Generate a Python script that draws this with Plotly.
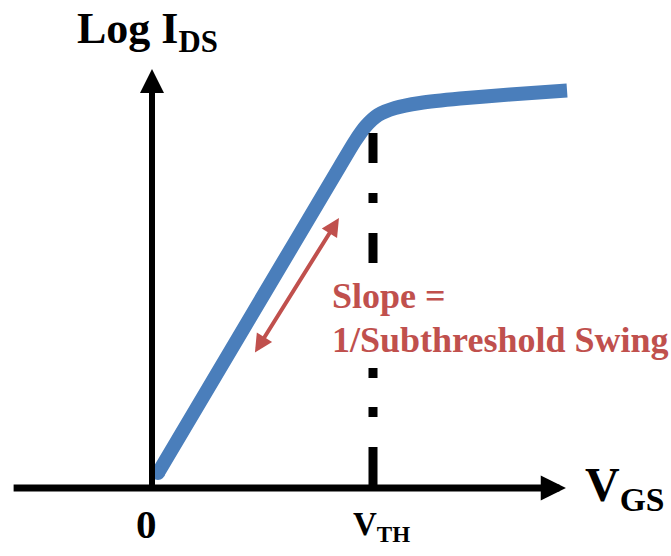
import plotly.graph_objects as go

# Transfer characteristic: gate voltage (V_TH = 1) against log drain current
vgs = [0.027, 0.443, 0.851, 0.919, 0.968, 1.023, 1.100, 1.213, 1.394, 1.620, 1.878]
log_ids = [0.15, 1.70, 3.22, 3.47, 3.62, 3.73, 3.80, 3.85, 3.895, 3.935, 3.975]

v_th = 1.0

# extents of the drawn axes (data units)
x_axis = [-0.633, 1.873]
y_axis = [-0.04, 4.19]

# double-headed arrow alongside the subthreshold region
slope_arrow_x = [0.4615, 0.846]
slope_arrow_y = [1.34, 2.70]

# dashed threshold marker: upper and lower pieces
vth_upper = [3.55, 2.23]
vth_lower = [0.03, 1.20]

BLUE = "#4A7EBB"
RED = "#C0504D"
SERIF = "Liberation Serif"

fig = go.Figure()

fig.add_trace(go.Scatter(
    x=vgs, y=log_ids, mode="lines",
    line=dict(color=BLUE, width=14, shape="spline", smoothing=0.6),
    hoverinfo="skip",
))
# rounded start of the curve
fig.add_trace(go.Scatter(
    x=vgs[:1], y=log_ids[:1], mode="markers",
    marker=dict(color=BLUE, size=14, line=dict(width=0)),
    hoverinfo="skip",
))

fig.add_shape(type="line", x0=v_th, x1=v_th, y0=vth_upper[0], y1=vth_upper[1],
              line=dict(color="black", width=9, dash="30px,30px,10px,30px"))
fig.add_shape(type="line", x0=v_th, x1=v_th, y0=vth_lower[0], y1=vth_lower[1],
              line=dict(color="black", width=9, dash="38px,30px,10px,29px,10px,30px"))

annotations = [
    # horizontal axis with arrow
    dict(x=x_axis[1], y=0, ax=x_axis[0], ay=0, axref="x", ayref="y",
         xref="x", yref="y", text="", showarrow=True, arrowhead=2,
         arrowsize=0.72, arrowwidth=7, arrowcolor="black", standoff=0),
    # vertical axis with arrow
    dict(x=0, y=y_axis[1], ax=0, ay=y_axis[0], axref="x", ayref="y",
         xref="x", yref="y", text="", showarrow=True, arrowhead=2,
         arrowsize=0.8, arrowwidth=6, arrowcolor="black", standoff=0),
    # slope arrow (both ends)
    dict(x=slope_arrow_x[1], y=slope_arrow_y[1], ax=slope_arrow_x[0], ay=slope_arrow_y[0],
         axref="x", ayref="y", xref="x", yref="y", text="", showarrow=True,
         arrowhead=2, startarrowhead=2, arrowside="end+start",
         arrowsize=0.9, startarrowsize=0.9, arrowwidth=4, arrowcolor=RED, standoff=0,
         startstandoff=0),
    # labels
    dict(x=75 / 671, y=1 - 2 / 556, xref="paper", yref="paper", xanchor="left", yanchor="top",
         text="Log I<sub>DS</sub>", showarrow=False,
         font=dict(family=SERIF, size=44, color="black", weight="bold")),
    dict(x=583 / 671, y=1 - 488 / 556, xref="paper", yref="paper", xanchor="left", yanchor="middle",
         text="V<sub>GS</sub>", showarrow=False,
         font=dict(family=SERIF, size=48, color="black", weight="bold")),
    dict(x=-0.023, y=-0.36, xref="x", yref="y", xanchor="center", yanchor="middle",
         text="0", showarrow=False,
         font=dict(family=SERIF, size=41, color="black", weight="bold")),
    dict(x=v_th + 0.04, y=-0.38, xref="x", yref="y", xanchor="center", yanchor="middle",
         text="V<sub>TH</sub>", showarrow=False,
         font=dict(family=SERIF, size=33, color="black", weight="bold")),
    dict(x=330 / 671, y=1 - 296 / 556, xref="paper", yref="paper", xanchor="left", yanchor="middle",
         text="Slope =", showarrow=False,
         font=dict(family=SERIF, size=36, color=RED, weight="bold")),
    dict(x=330 / 671, y=1 - 340 / 556, xref="paper", yref="paper", xanchor="left", yanchor="middle",
         text="1/Subthreshold Swing", showarrow=False,
         font=dict(family=SERIF, size=36, color=RED, weight="bold")),
]

fig.update_layout(
    width=671, height=556,
    margin=dict(l=0, r=0, t=0, b=0),
    paper_bgcolor="white", plot_bgcolor="white",
    showlegend=False,
    annotations=annotations,
    xaxis=dict(range=[-152 / 221, 519 / 221], visible=False, fixedrange=True),
    yaxis=dict(range=[-0.68, 4.88], visible=False, fixedrange=True),
)

fig.write_html("out.html", config=dict(displayModeBar=False))
